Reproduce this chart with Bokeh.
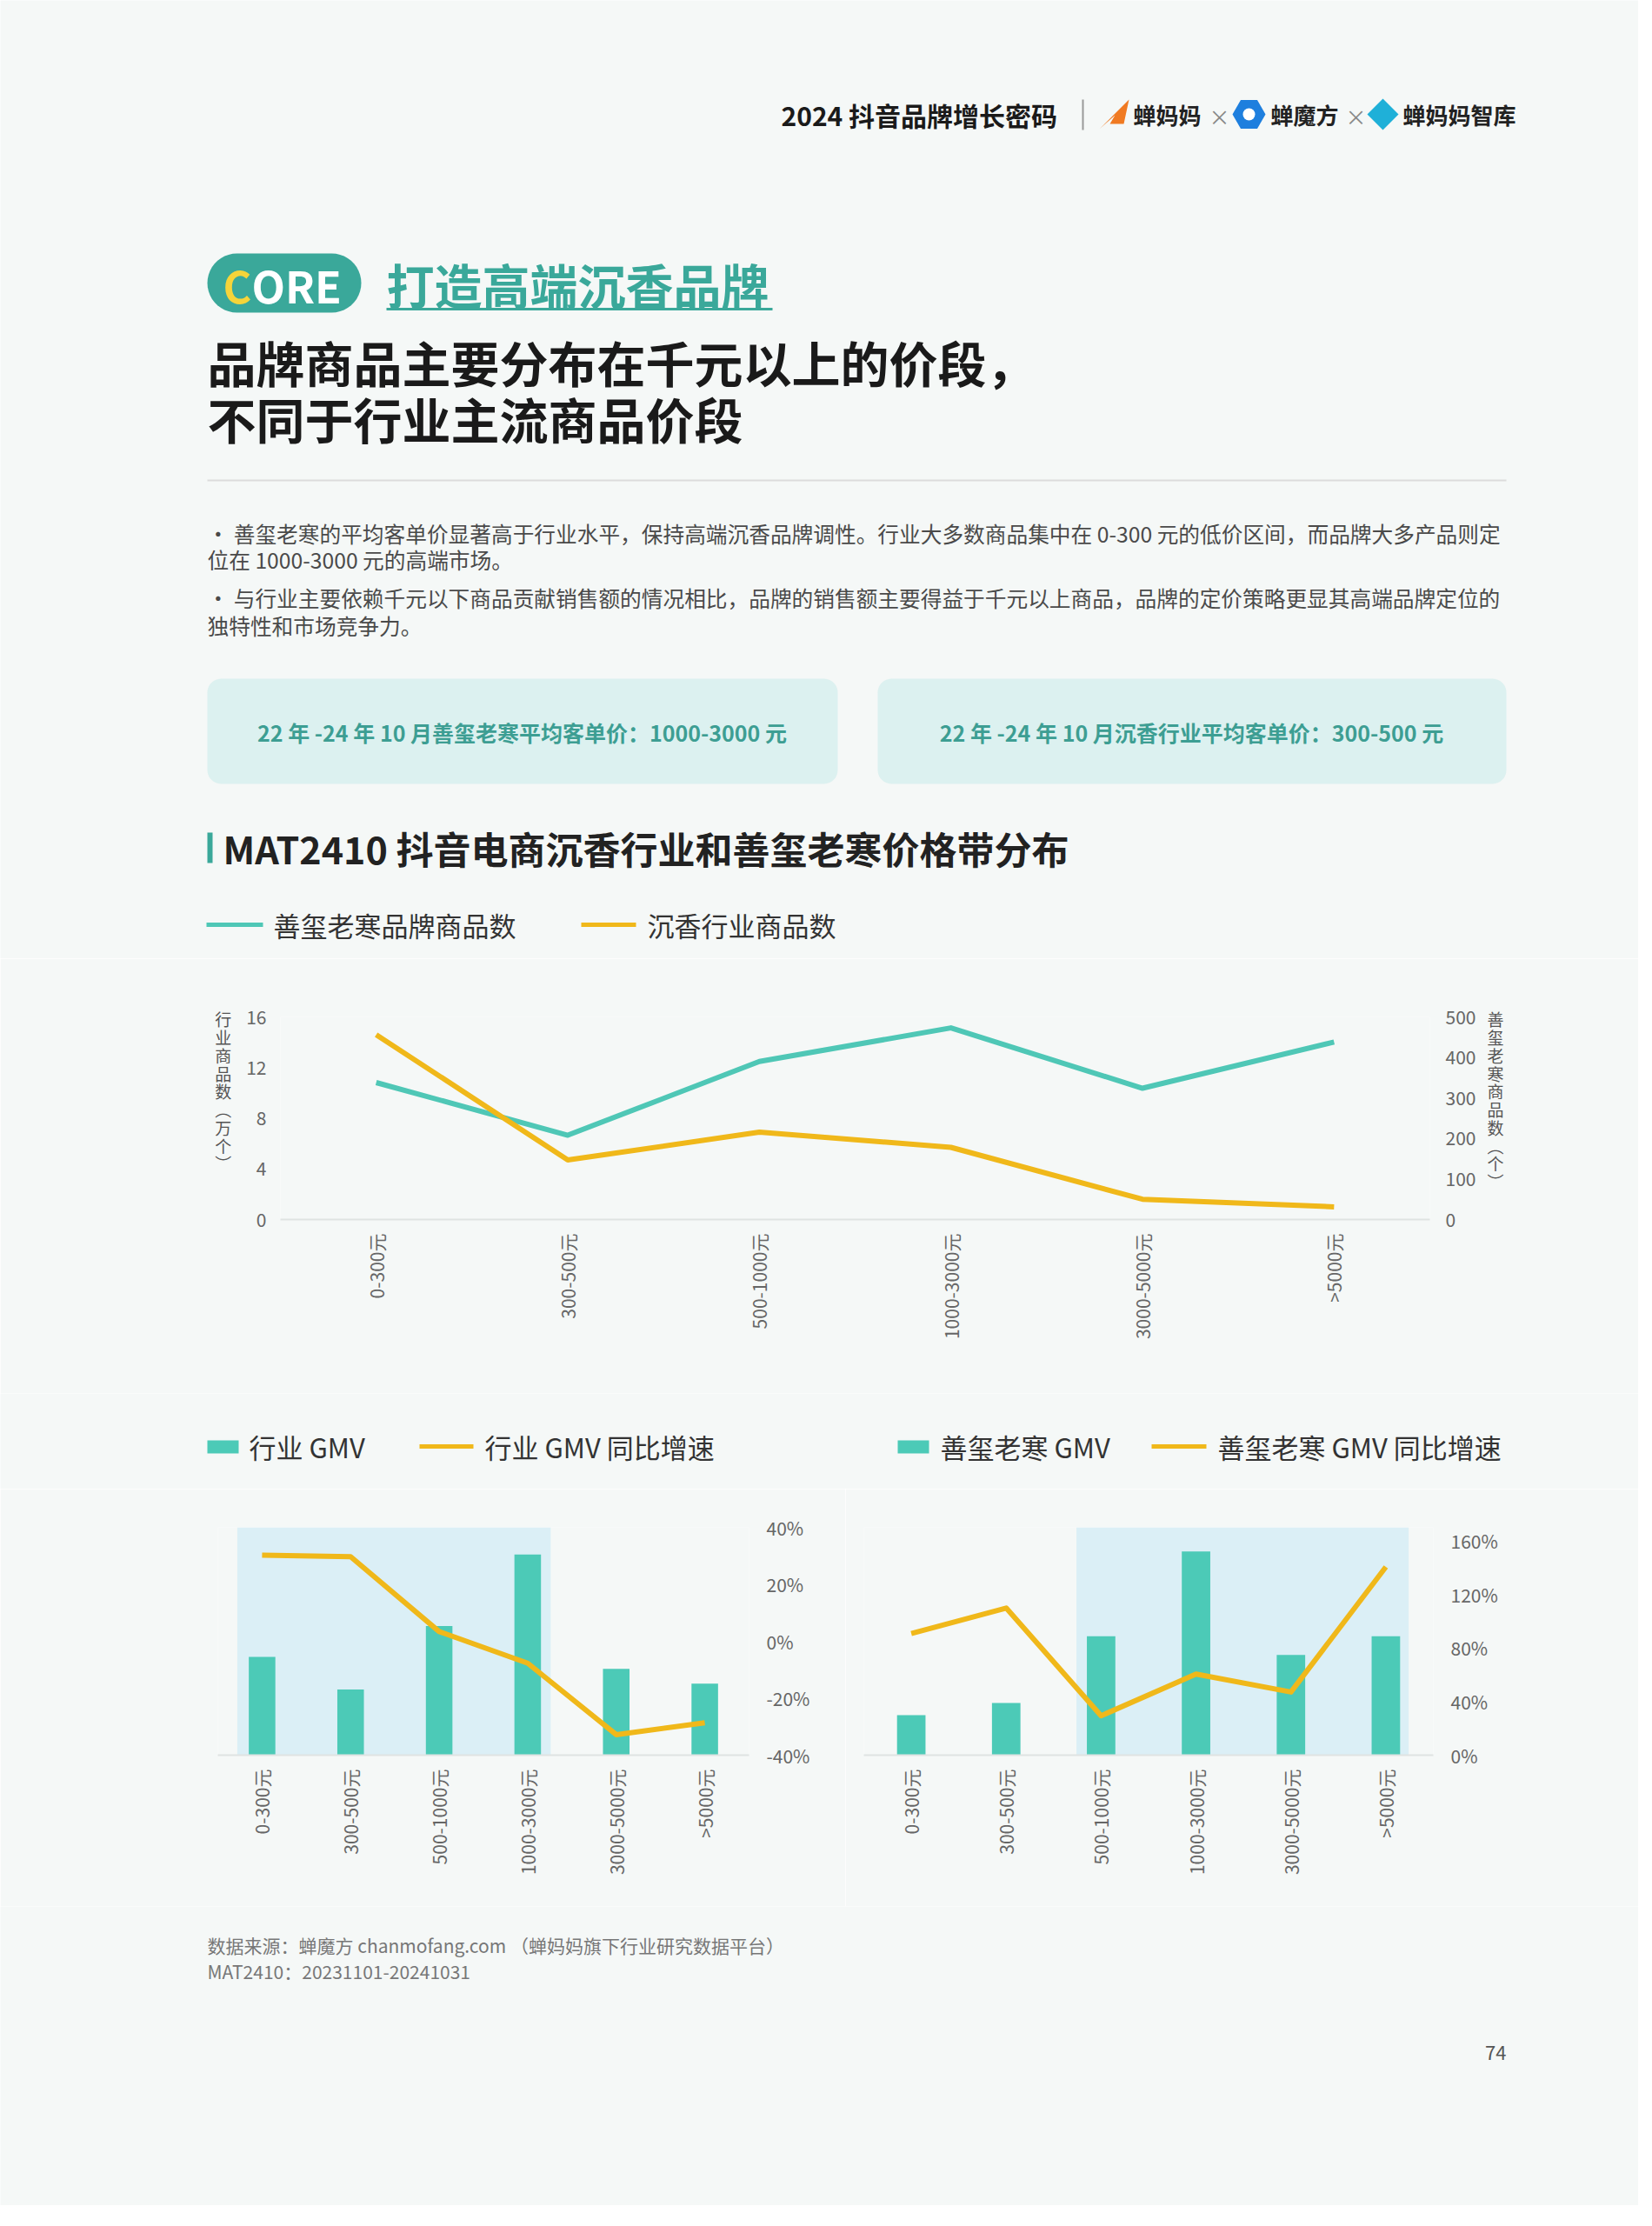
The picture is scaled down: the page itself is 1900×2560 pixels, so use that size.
import math
import numpy as np
from bokeh.plotting import figure
from bokeh.layouts import column, row
from bokeh.models import Range1d, FactorRange, LinearAxis, FixedTicker, BoxAnnotation, PrintfTickFormatter
from bokeh.core.properties import value
from bokeh.embed import file_html
from bokeh.resources import INLINE

# ---------------- data ----------------
categories = ["0-300元", "300-500元", "500-1000元", "1000-3000元", "3000-5000元", ">5000元"]
industry_items_wan = [14.6, 4.7, 6.9, 5.7, 1.6, 1.0]        # 沉香行业商品数（万个）
brand_items = [338, 208, 390, 473, 324, 438]                 # 善玺老寒品牌商品数（个）
industry_gmv = [3.44, 2.30, 4.52, 7.02, 3.02, 2.50]          # 行业 GMV（相对值）
industry_gmv_yoy = [30.2, 29.7, 3.4, -7.7, -32.8, -28.6]     # 行业 GMV 同比增速 %
brand_gmv = [1.38, 1.80, 4.10, 7.03, 3.46, 4.10]             # 善玺老寒 GMV（相对值）
brand_gmv_yoy = [90.8, 109.8, 29.4, 60.5, 47.1, 140.5]       # 善玺老寒 GMV 同比增速 %
left_ticks = [0, 4, 8, 12, 16]
right_ticks = [0, 100, 200, 300, 400, 500]
ind_yoy_ticks = [-40, -20, 0, 20, 40]
brand_yoy_ticks = [0, 40, 80, 120, 160]

# ---------------- style ----------------
BG = "#f5f8f7"
TEAL = "#4fc7b6"
BAR = "#4ccab7"
YEL = "#f0b81a"
DARK_TEAL = "#3aa89a"
BAND = "#dbeff6"
FONT = "Noto Sans CJK SC"
CJK = value(FONT)
W = 1884


def page_fig(y0, y1, width=W, x0=8):
    p = figure(width=width, height=y1 - y0, x_range=Range1d(x0, x0 + width), y_range=Range1d(y1, y0),
               output_backend="svg", toolbar_location=None, x_axis_location=None, y_axis_location=None,
               min_border=0, background_fill_color=BG, border_fill_color=BG, outline_line_color=None)
    p.grid.visible = False
    return p


def txt(p, x, y, s, size, color, bold=False, align="left"):
    p.text(x=[x], y=[y], text=[s], text_font=CJK, text_font_size=f"{size}px", text_color=color,
           text_font_style="bold" if bold else "normal", text_align=align, text_baseline="middle")


def rrect(p, x0, y0, x1, y1, r, color, alpha=1.0):
    xs, ys = [], []
    for cx, cy, a0 in [(x1 - r, y0 + r, -90), (x1 - r, y1 - r, 0), (x0 + r, y1 - r, 90), (x0 + r, y0 + r, 180)]:
        t = np.radians(np.linspace(a0, a0 + 90, 12))
        xs.extend(cx + r * np.cos(t))
        ys.extend(cy + r * np.sin(t))
    p.patch(xs, ys, fill_color=color, fill_alpha=alpha, line_color=None)


# ---------------- header / text block ----------------
head = page_fig(8, 1110)
txt(head, 906, 139, "2024 抖音品牌增长密码", 30, "#1a1a1a", bold=True)
head.line([1253, 1253], [122, 157], line_color="#999999", line_width=2)
head.patch([1272, 1306, 1300, 1284, 1290, 1272], [156, 122, 150, 150, 140, 156], fill_color="#f07a22", line_color=None)
txt(head, 1311, 139, "蝉妈妈", 26, "#222222", bold=True)
txt(head, 1398, 141, "×", 24, "#888888")
head.scatter([1444], [139], marker="hex", size=38, fill_color="#1e7fde", line_color=None)
head.scatter([1444], [139], marker="circle", size=14, fill_color="white", line_color=None)
txt(head, 1469, 139, "蝉魔方", 26, "#222222", bold=True)
txt(head, 1555, 141, "×", 24, "#888888")
head.patch([1598, 1616, 1598, 1580], [121, 139, 157, 139], fill_color="#1fb0d8", line_color=None)
txt(head, 1621, 139, "蝉妈妈智库", 26, "#222222", bold=True)

rrect(head, 246, 299, 423, 367, 34, DARK_TEAL)
txt(head, 264, 334, "C", 50, "#f5d43a", bold=True)
txt(head, 297, 334, "ORE", 50, "white", bold=True)
txt(head, 452, 333, "打造高端沉香品牌", 55, DARK_TEAL, bold=True)
head.line([452, 896], [363, 363], line_color=DARK_TEAL, line_width=3)

txt(head, 246, 423, "品牌商品主要分布在千元以上的价段，", 56, "#1a1a1a", bold=True)
txt(head, 246, 488, "不同于行业主流商品价段", 56, "#1a1a1a", bold=True)
head.line([246, 1740], [560, 560], line_color="#dcdcdc", line_width=2)

body = "#4a4a4a"
txt(head, 246, 620, "· 善玺老寒的平均客单价显著高于行业水平，保持高端沉香品牌调性。行业大多数商品集中在 0-300 元的低价区间，而品牌大多产品则定", 24.7, body)
txt(head, 246, 650, "位在 1000-3000 元的高端市场。", 24.7, body)
txt(head, 246, 694, "· 与行业主要依赖千元以下商品贡献销售额的情况相比，品牌的销售额主要得益于千元以上商品，品牌的定价策略更显其高端品牌定位的", 24.7, body)
txt(head, 246, 726, "独特性和市场竞争力。", 24.7, body)

rrect(head, 246, 788, 971, 909, 16, "#d9efee", 0.9)
rrect(head, 1017, 788, 1740, 909, 16, "#d9efee", 0.9)
txt(head, 608, 849, "22 年 -24 年 10 月善玺老寒平均客单价：1000-3000 元", 25, "#3d9e93", bold=True, align="center")
txt(head, 1378, 849, "22 年 -24 年 10 月沉香行业平均客单价：300-500 元", 25, "#3d9e93", bold=True, align="center")

head.quad(left=[246], right=[252], top=[965], bottom=[1000], fill_color=DARK_TEAL, line_color=None)
txt(head, 264, 982, "MAT2410 抖音电商沉香行业和善玺老寒价格带分布", 43, "#222222", bold=True)

head.line([245, 310], [1071, 1071], line_color=TEAL, line_width=5)
txt(head, 322, 1071, "善玺老寒品牌商品数", 31, "#333333")
head.line([676, 739], [1071, 1071], line_color=YEL, line_width=5)
txt(head, 752, 1071, "沉香行业商品数", 31, "#333333")


def style_axes(p):
    for ax in p.axis:
        ax.major_tick_line_color = None
        ax.minor_tick_line_color = None
        ax.major_label_text_font = FONT
        ax.major_label_text_font_size = "21px"
        ax.major_label_text_color = "#666666"
    for ax in p.yaxis:
        ax.axis_line_color = None
    p.xaxis.axis_line_color = "#dfe3e2"
    p.xaxis.axis_line_width = 2
    p.xaxis.major_label_orientation = math.pi / 2
    p.xaxis.major_label_standoff = 10
    p.grid.visible = False


# ---------------- chart 1 ----------------
c1 = figure(width=W, height=500, x_range=FactorRange(*categories), y_range=Range1d(0, 16),
            output_backend="svg", toolbar_location=None,
            min_border_left=322, min_border_right=240, min_border_top=67, min_border_bottom=200,
            background_fill_color=BG, border_fill_color=BG, outline_line_color=None)
c1.extra_y_ranges = {"brand": Range1d(0, 500)}
rax = LinearAxis(y_range_name="brand", ticker=FixedTicker(ticks=right_ticks))
c1.add_layout(rax, "right")
c1.left[0].ticker = FixedTicker(ticks=left_ticks)
c1.line(x=categories, y=brand_items, y_range_name="brand", line_color=TEAL, line_width=6, line_join="round")
c1.line(x=categories, y=industry_items_wan, line_color=YEL, line_width=6, line_join="round")
style_axes(c1)
lax = c1.left[0]
lax.major_label_standoff = 10
# stacked vertical labels; trailing full-width blanks lift the centred block to the top like the reference
lax.axis_label = "\n".join(list("行业商品数︵万个︶") + ["　"] * 3)
rax.axis_label = "\n".join(list("善玺老寒商品数︵个︶") + ["　"] * 2)
rax.major_label_standoff = 12
for ax in (lax, rax):
    ax.axis_label_orientation = "horizontal"
    ax.axis_label_text_font = FONT
    ax.axis_label_text_font_style = "normal"
    ax.axis_label_text_font_size = "19px"
    ax.axis_label_text_color = "#555555"
    ax.axis_label_text_line_height = 0.77
lax.axis_label_standoff = 14
rax.axis_label_standoff = 10

# ---------------- legend row for bottom charts ----------------
leg = page_fig(1610, 1720)
leg.quad(left=[246], right=[282], top=[1664], bottom=[1679], fill_color=BAR, line_color=None)
txt(leg, 294, 1671, "行业 GMV", 31, "#333333")
leg.line([490, 552], [1671, 1671], line_color=YEL, line_width=5)
txt(leg, 565, 1671, "行业 GMV 同比增速", 31, "#333333")
leg.quad(left=[1040], right=[1076], top=[1664], bottom=[1679], fill_color=BAR, line_color=None)
txt(leg, 1089, 1671, "善玺老寒 GMV", 31, "#333333")
leg.line([1332, 1395], [1671, 1671], line_color=YEL, line_width=5)
txt(leg, 1408, 1671, "善玺老寒 GMV 同比增速", 31, "#333333")


def gmv_chart(width, mbl, mbr, mbt, gmv, gmv_top, yoy, y0, y1, ticks, band):
    p = figure(width=width, height=480, x_range=FactorRange(*categories), y_range=Range1d(y0, y1),
               y_axis_location="right", output_backend="svg", toolbar_location=None,
               min_border_left=mbl, min_border_right=mbr, min_border_top=mbt, min_border_bottom=174,
               background_fill_color=BG, border_fill_color=BG, outline_line_color=None)
    p.extra_y_ranges = {"gmv": Range1d(0, gmv_top)}
    p.add_layout(BoxAnnotation(left=band[0], right=band[1], fill_color=BAND, fill_alpha=1.0,
                               line_color=None, level="underlay"))
    p.vbar(x=categories, top=gmv, width=0.3, y_range_name="gmv", fill_color=BAR, line_color=None)
    p.line(x=categories, y=yoy, line_color=YEL, line_width=6, line_join="round")
    style_axes(p)
    p.yaxis.ticker = FixedTicker(ticks=ticks)
    p.yaxis.formatter = PrintfTickFormatter(format="%d%%")
    p.yaxis.major_label_standoff = 14
    return p


gl = gmv_chart(972, 250, 111, 42, industry_gmv, 7.97, industry_gmv_yoy, -40, 40, ind_yoy_ticks, (0.22, 3.76))
gr = gmv_chart(912, 21, 236, 44, brand_gmv, 7.86, brand_gmv_yoy, 0, 170, brand_yoy_ticks, (2.24, 5.74))

# ---------------- footer ----------------
foot = page_fig(2200, 2544)
txt(foot, 246, 2244, "数据来源：蝉魔方 chanmofang.com （蝉妈妈旗下行业研究数据平台）", 21, "#777777")
txt(foot, 246, 2274, "MAT2410：20231101-20241031", 21, "#777777")
txt(foot, 1740, 2368, "74", 22, "#555555", align="right")

# each plot wrapped in its own row so that the column does not align their frames
layout = column(row(head), row(c1), row(leg), row(gl, gr), row(foot))
open("out.html", "w").write(file_html(layout, INLINE))
